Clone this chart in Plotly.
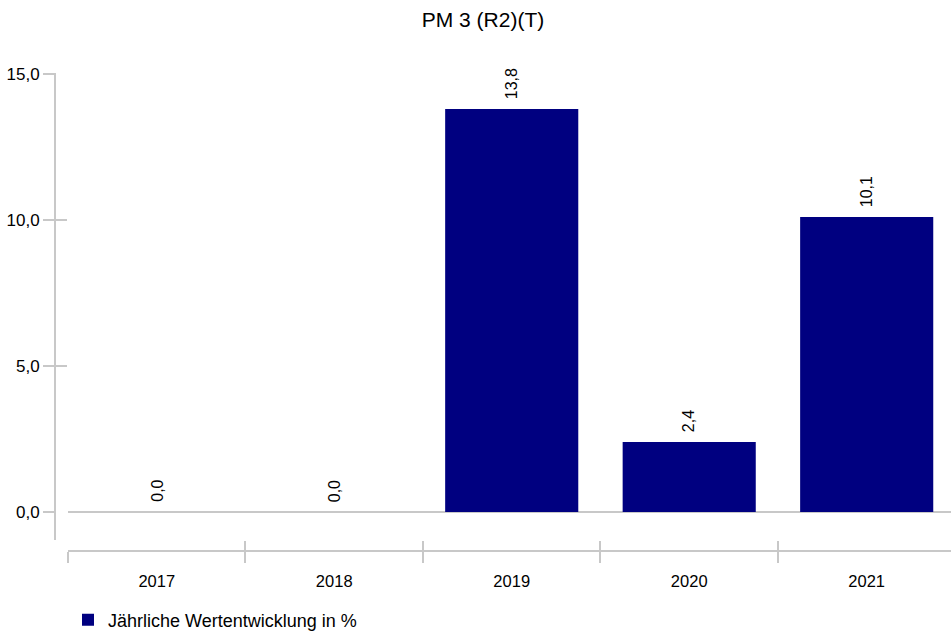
import plotly.graph_objects as go

years = ["2017", "2018", "2019", "2020", "2021"]
values = [0.0, 0.0, 13.8, 2.4, 10.1]
y_ticks = [0, 5, 10, 15]
series_name = "Jährliche Wertentwicklung in %"
title_text = "PM 3 (R2)(T)"

GRAY = "#c8c8c8"
NAVY = "#000080"
FONT = "Liberation Sans, Arial, sans-serif"

W, H = 951, 634
L, R, T, B = 55, 0, 73, 83
pw = W - L - R
ph = H - T - B

x_dom = [13 / pw, 1]
y_dom = [11 / ph, 1]
y_rng = [-0.959, 15.034]
x_rng = [-0.5, 4.475]

fig = go.Figure()
fig.add_trace(go.Bar(
    x=years, y=values, name=series_name,
    marker=dict(color=NAVY, line=dict(width=0)),
    width=0.75,
    xaxis="x", yaxis="y",
))
# helper trace so the overlaid axes (inner half of crossing ticks) exist
fig.add_trace(go.Scatter(
    x=years, y=[None] * len(years), xaxis="x2", yaxis="y2",
    showlegend=False, hoverinfo="skip", mode="markers",
))

# value labels, rotated, above each bar (x given as category index)
annotations = []
for i, v in enumerate(values):
    annotations.append(dict(
        x=i, y=v, xref="x", yref="y",
        text=f"{v:.1f}".replace(".", ","),
        textangle=-90, showarrow=False,
        xanchor="center", yanchor="bottom", yshift=8,
        font=dict(size=16, color="black", family=FONT),
    ))

fig.update_layout(
    width=W, height=H,
    margin=dict(l=L, r=R, t=T, b=B),
    paper_bgcolor="white", plot_bgcolor="white",
    separators=",.",
    font=dict(family=FONT, size=16, color="black"),
    title=dict(text=title_text, x=483 / W, xref="container", xanchor="center",
               y=1 - 20 / H, yref="container", yanchor="middle",
               font=dict(size=21, color="black", family=FONT)),
    showlegend=True,
    legend=dict(orientation="h", x=13 / pw, xanchor="left",
                y=1 - 620 / H, yref="container",
                yanchor="middle", font=dict(size=18), bgcolor="rgba(0,0,0,0)"),
    annotations=annotations,
    xaxis=dict(type="category", categoryorder="array", categoryarray=years,
               range=x_rng, domain=x_dom, anchor="free", position=0,
               showline=True, linecolor=GRAY, linewidth=2,
               ticks="outside", ticklen=11, tickwidth=2, tickcolor=GRAY,
               tickson="boundaries", showgrid=False, zeroline=False,
               ticklabelstandoff=15,
               tickfont=dict(size=16.5)),
    xaxis2=dict(type="category", categoryorder="array", categoryarray=years,
                range=x_rng, domain=x_dom, anchor="free", position=0,
                overlaying="x", showline=False,
                ticks="inside", ticklen=10, tickwidth=2, tickcolor=GRAY,
                tickson="boundaries", showticklabels=False,
                showgrid=False, zeroline=False),
    yaxis=dict(range=y_rng, domain=y_dom, anchor="free", position=0,
               showline=True, linecolor=GRAY, linewidth=2,
               ticks="outside", ticklen=11, tickwidth=2, tickcolor=GRAY,
               tickvals=y_ticks, tickformat=".1f", showgrid=False,
               zeroline=True, zerolinecolor=GRAY, zerolinewidth=2,
               tickfont=dict(size=17)),
    yaxis2=dict(range=y_rng, domain=y_dom, anchor="free", position=0,
                overlaying="y", showline=False,
                ticks="inside", ticklen=11, tickwidth=2, tickcolor=GRAY,
                tickvals=y_ticks[1:], showticklabels=False,
                showgrid=False, zeroline=False),
)

fig.write_html("out.html",
               config={"displayModeBar": False},
               post_script="document.body.style.margin='0';document.body.style.padding='0';")
